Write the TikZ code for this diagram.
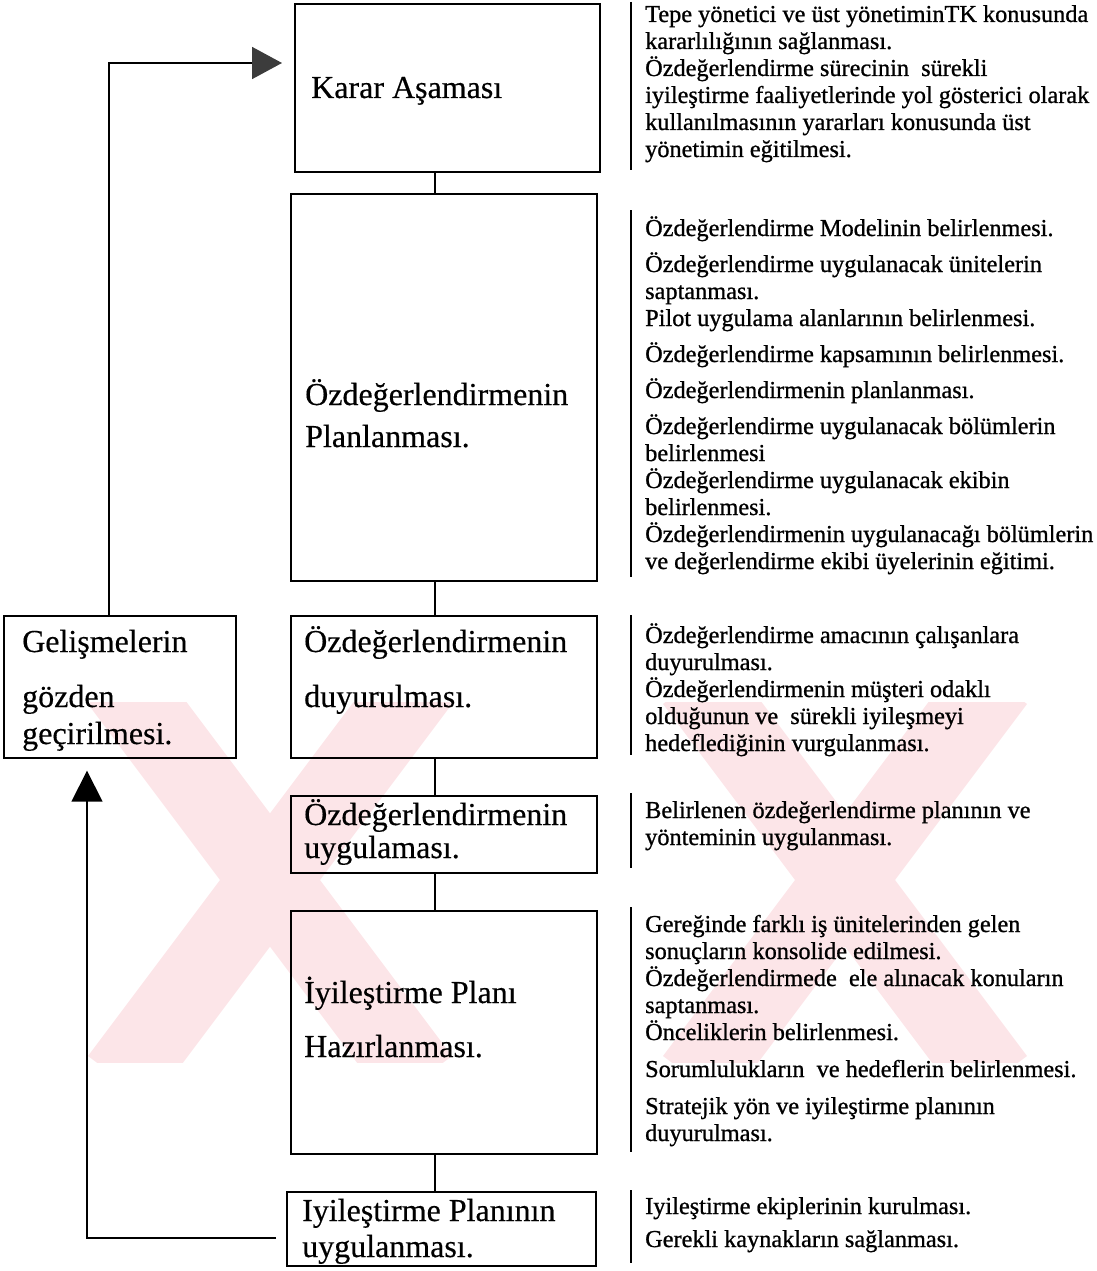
\documentclass[tikz,border=0pt]{standalone}
\usepackage{fontspec}
\setmainfont{Liberation Serif}
\usetikzlibrary{calc,arrows.meta}
\definecolor{wmpink}{RGB}{252,229,232}
\definecolor{tipgray}{RGB}{60,60,60}
% right-hand description blocks: first baseline sits on the node's base
\newcommand{\descblock}[1]{\parbox[t]{455pt}{\raggedright\fontsize{24.3}{27}\selectfont\addfontfeature{FakeBold=0.9}#1}}
\newcommand{\boxfont}{\fontsize{32}{38}\selectfont\addfontfeature{FakeBold=0.4}}
\begin{document}
\begin{tikzpicture}[x=1pt,y=-1pt,
  stage/.style={draw, line width=1.7pt, inner sep=0pt, anchor=north west},
  btxt/.style={anchor=base west, inner sep=0pt, font=\boxfont},
  rtxt/.style={anchor=base west, inner sep=0pt},
  link/.style={line width=1.7pt},
  bar/.style={line width=2.3pt},
  tipA/.style={-{Triangle[length=30pt,width=32pt,color=tipgray]}},
  tipB/.style={-{Triangle[length=31pt,width=31pt]}},
  ]
\useasboundingbox (0,0) rectangle (1097,1271);

% background watermark bands
\begin{scope}
  \clip (0,702) rectangle (1097,1062);
  \foreach \cx in {270,845} {
    \draw[wmpink, line width=80pt] (\cx-150,680) -- (\cx+150,1080);
    \draw[wmpink, line width=80pt] (\cx+150,680) -- (\cx-150,1080);
  }
\end{scope}

% stage boxes
\node[stage, minimum width=305pt, minimum height=168pt] (karar) at (294,3) {};
\node[stage, minimum width=306pt, minimum height=387pt] (plan) at (290,193) {};
\node[stage, minimum width=306pt, minimum height=142pt] (duyuru) at (290,615) {};
\node[stage, minimum width=232pt, minimum height=142pt] (gelis) at (3,615) {};
\node[stage, minimum width=306pt, minimum height=77pt] (uygula) at (290,795) {};
\node[stage, minimum width=306pt, minimum height=243pt] (hazir) at (290,910) {};
\node[stage, minimum width=309pt, minimum height=74pt] (uygulan) at (286,1191) {};

% box labels
\node[btxt] (kararA) at (311,98) {Karar Aşaması};
\node[btxt] (planA) at (305,405) {Özdeğerlendirmenin};
\node[btxt] (planB) at (305,447) {Planlanması.};
\node[btxt] (duyuruA) at (304,652) {Özdeğerlendirmenin};
\node[btxt] (duyuruB) at (304,707) {duyurulması.};
\node[btxt] (gelisA) at (22,652) {Gelişmelerin};
\node[btxt] (gelisB) at (22,707) {gözden};
\node[btxt] (gelisC) at (22,744) {geçirilmesi.};
\node[btxt] (uygulaA) at (304,825) {Özdeğerlendirmenin};
\node[btxt] (uygulaB) at (304,858) {uygulaması.};
\node[btxt] (hazirA) at (304,1003) {İyileştirme Planı};
\node[btxt] (hazirB) at (304,1057) {Hazırlanması.};
\node[btxt] (uygulanA) at (302,1221) {Iyileştirme Planının};
\node[btxt] (uygulanB) at (302,1257) {uygulanması.};

% connectors between consecutive stages
\coordinate (cx) at (435,0);
\draw[link] (karar.south -| cx) -- (plan.north -| cx);
\draw[link] (plan.south -| cx) -- (duyuru.north -| cx);
\draw[link] (duyuru.south -| cx) -- (uygula.north -| cx);
\draw[link] (uygula.south -| cx) -- (hazir.north -| cx);
\draw[link] (hazir.south -| cx) -- (uygulan.north -| cx);

% feedback loop
\coordinate (loopUp) at ($(karar.north west)+(-12,60)$);
\coordinate (loopDown) at ($(gelis.south west)+(84,12)$);
\coordinate (loopStart) at ($(uygulan.north west)+(-10,47)$);
\draw[link, tipA] ($(gelis.north west)+(106,0)$) |- (loopUp);
\draw[link, tipB] (loopStart) -| (loopDown);

% descriptions
\node[rtxt] (d1) at (645,22) {\descblock{%
Tepe yönetici ve üst yönetiminTK konusunda\\
kararlılığının sağlanması.\\
Özdeğerlendirme sürecinin\ \ sürekli\\
iyileştirme faaliyetlerinde yol gösterici olarak\\
kullanılmasının yararları konusunda üst\\
yönetimin eğitilmesi.}};
\node[rtxt] (d2) at (645,236) {\descblock{%
Özdeğerlendirme Modelinin belirlenmesi.\\[9pt]
Özdeğerlendirme uygulanacak ünitelerin\\
saptanması.\\
Pilot uygulama alanlarının belirlenmesi.\\[9pt]
Özdeğerlendirme kapsamının belirlenmesi.\\[9pt]
Özdeğerlendirmenin planlanması.\\[9pt]
Özdeğerlendirme uygulanacak bölümlerin\\
belirlenmesi\\
Özdeğerlendirme uygulanacak ekibin\\
belirlenmesi.\\
Özdeğerlendirmenin uygulanacağı bölümlerin\\
ve değerlendirme ekibi üyelerinin eğitimi.}};
\node[rtxt] (d3) at (645,643) {\descblock{%
Özdeğerlendirme amacının çalışanlara\\
duyurulması.\\
Özdeğerlendirmenin müşteri odaklı\\
olduğunun ve\ \ sürekli iyileşmeyi\\
hedeflediğinin vurgulanması.}};
\node[rtxt] (d4) at (645,818) {\descblock{%
Belirlenen özdeğerlendirme planının ve\\
yönteminin uygulanması.}};
\node[rtxt] (d5) at (645,932) {\descblock{%
Gereğinde farklı iş ünitelerinden gelen\\
sonuçların konsolide edilmesi.\\
Özdeğerlendirmede\ \ ele alınacak konuların\\
saptanması.\\
Önceliklerin belirlenmesi.\\[10pt]
Sorumlulukların\ \ ve hedeflerin belirlenmesi.\\[10pt]
Stratejik yön ve iyileştirme planının\\
duyurulması.}};
\node[rtxt] (d6) at (645,1214) {\descblock{%
Iyileştirme ekiplerinin kurulması.\\[6pt]
Gerekli kaynakların sağlanması.}};

% bars beside the descriptions
\draw[bar] (631,2) -- (631,170);
\draw[bar] (631,210) -- (631,577);
\draw[bar] (631,615) -- (631,755);
\draw[bar] (631,793) -- (631,868);
\draw[bar] (631,907) -- (631,1152);
\draw[bar] (631,1190) -- (631,1263);
\end{tikzpicture}
\end{document}
